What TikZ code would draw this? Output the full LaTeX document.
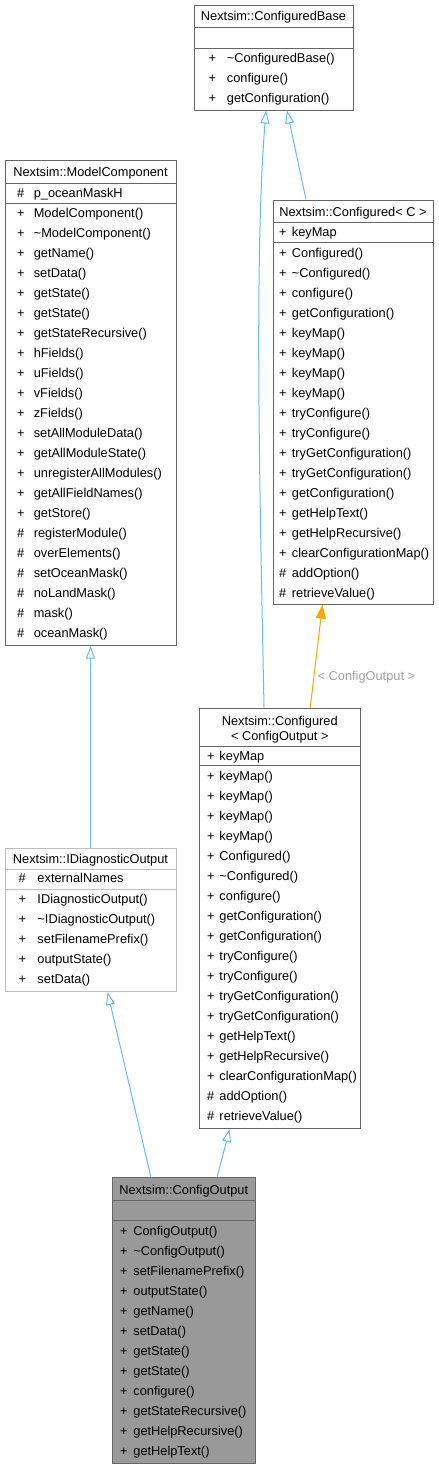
\documentclass[tikz,border=0pt]{standalone}
\usepackage{fontspec}
\setmainfont{Liberation Sans}
\definecolor{edgeblue}{RGB}{99,184,255}
\definecolor{edgeorange}{RGB}{255,165,0}
\definecolor{boxline}{RGB}{102,102,102}
\definecolor{paleline}{RGB}{191,191,191}
\definecolor{curfill}{RGB}{153,153,153}
\definecolor{lblgrey}{RGB}{160,160,160}
\usetikzlibrary{arrows.meta}
\newlength{\symgap}
\newcommand{\mrow}[2]{\makebox[\symgap][l]{#1}#2}
\newcommand{\dtor}{\textasciitilde}

\begin{document}
\begin{tikzpicture}[x=1pt, y=-1pt,
      cls/.style={draw=boxline, line width=1pt, fill=white, inner sep=0pt},
      hdr/.style={font=\fontsize{12.8}{15}\selectfont, align=center, inner sep=0pt},
      members/.style={font=\fontsize{12.8}{20}\selectfont, align=left,
                      anchor=north west, inner sep=0pt,
                      execute at begin node={\global\symgap=#1\relax}},
      divider/.style={boxline, line width=1pt},
      inh/.style={-{Triangle[open, length=13pt, width=9pt]}, line width=1pt, edgeblue},
      tmpl/.style={-{Triangle[length=14pt, width=10pt]}, line width=1pt, edgeorange},
      tmpllbl/.style={text=lblgrey, font=\fontsize{12.8}{15}\selectfont}
    ]
    \useasboundingbox (0,0) rectangle (439,1468);

    % Nextsim::ConfiguredBase
    \node[cls, minimum width=159pt, minimum height=105pt] (base) at (273.5,57.5) {};
    \draw[divider] ([yshift=-23pt]base.north west) -- ([yshift=-23pt]base.north east);
    \draw[divider] ([yshift=-44pt]base.north west) -- ([yshift=-44pt]base.north east);
    \node[hdr] (base-t) at (273.5,17) {Nextsim::ConfiguredBase};
    \node[members=18.4pt] (base-o) at (208.3,53) {%
      \mrow{+}{\dtor ConfiguredBase()}\\
      \mrow{+}{configure()}\\
      \mrow{+}{getConfiguration()}};

    % Nextsim::ModelComponent
    \node[cls, minimum width=171pt, minimum height=485pt] (mc) at (90.5,402.5) {};
    \draw[divider] ([yshift=-24pt]mc.north west) -- ([yshift=-24pt]mc.north east);
    \draw[divider] ([yshift=-44pt]mc.north west) -- ([yshift=-44pt]mc.north east);
    \node[hdr] (mc-t) at (90.5,173.5) {Nextsim::ModelComponent};
    \node[members=16.6pt] (mc-a) at (17,188) {\mrow{\#}{p\_oceanMaskH}};
    \node[members=16.6pt] (mc-o) at (17,208) {%
      \mrow{+}{ModelComponent()}\\
      \mrow{+}{\dtor ModelComponent()}\\
      \mrow{+}{getName()}\\
      \mrow{+}{setData()}\\
      \mrow{+}{getState()}\\
      \mrow{+}{getState()}\\
      \mrow{+}{getStateRecursive()}\\
      \mrow{+}{hFields()}\\
      \mrow{+}{uFields()}\\
      \mrow{+}{vFields()}\\
      \mrow{+}{zFields()}\\
      \mrow{+}{setAllModuleData()}\\
      \mrow{+}{getAllModuleState()}\\
      \mrow{+}{unregisterAllModules()}\\
      \mrow{+}{getAllFieldNames()}\\
      \mrow{+}{getStore()}\\
      \mrow{\#}{registerModule()}\\
      \mrow{\#}{overElements()}\\
      \mrow{\#}{setOceanMask()}\\
      \mrow{\#}{noLandMask()}\\
      \mrow{\#}{mask()}\\
      \mrow{\#}{oceanMask()}};

    % Nextsim::Configured< C >
    \node[cls, minimum width=160pt, minimum height=404pt] (cfgc) at (353,402) {};
    \draw[divider] ([yshift=-23pt]cfgc.north west) -- ([yshift=-23pt]cfgc.north east);
    \draw[divider] ([yshift=-43pt]cfgc.north west) -- ([yshift=-43pt]cfgc.north east);
    \node[hdr] (cfgc-t) at (353,213.5) {Nextsim::Configured< C >};
    \node[members=12.7pt] (cfgc-a) at (279,227.5) {\mrow{+}{keyMap}};
    \node[members=12.7pt] (cfgc-o) at (279,247.7) {%
      \mrow{+}{Configured()}\\
      \mrow{+}{\dtor Configured()}\\
      \mrow{+}{configure()}\\
      \mrow{+}{getConfiguration()}\\
      \mrow{+}{keyMap()}\\
      \mrow{+}{keyMap()}\\
      \mrow{+}{keyMap()}\\
      \mrow{+}{keyMap()}\\
      \mrow{+}{tryConfigure()}\\
      \mrow{+}{tryConfigure()}\\
      \mrow{+}{tryGetConfiguration()}\\
      \mrow{+}{tryGetConfiguration()}\\
      \mrow{+}{getConfiguration()}\\
      \mrow{+}{getHelpText()}\\
      \mrow{+}{getHelpRecursive()}\\
      \mrow{+}{clearConfigurationMap()}\\
      \mrow{\#}{addOption()}\\
      \mrow{\#}{retrieveValue()}};

    % Nextsim::Configured< ConfigOutput >
    \node[cls, minimum width=160.5pt, minimum height=420.5pt] (cfgo) at (279.75,918.25) {};
    \draw[divider] ([yshift=-39pt]cfgo.north west) -- ([yshift=-39pt]cfgo.north east);
    \draw[divider] ([yshift=-58pt]cfgo.north west) -- ([yshift=-58pt]cfgo.north east);
    \node[hdr] (cfgo-t) at (279.75,729.2) {Nextsim::Configured\\< ConfigOutput >};
    \node[members=12.3pt] (cfgo-a) at (207,751.3) {\mrow{+}{keyMap}};
    \node[members=12.3pt] (cfgo-o) at (207,771.3) {%
      \mrow{+}{keyMap()}\\
      \mrow{+}{keyMap()}\\
      \mrow{+}{keyMap()}\\
      \mrow{+}{keyMap()}\\
      \mrow{+}{Configured()}\\
      \mrow{+}{\dtor Configured()}\\
      \mrow{+}{configure()}\\
      \mrow{+}{getConfiguration()}\\
      \mrow{+}{getConfiguration()}\\
      \mrow{+}{tryConfigure()}\\
      \mrow{+}{tryConfigure()}\\
      \mrow{+}{tryGetConfiguration()}\\
      \mrow{+}{tryGetConfiguration()}\\
      \mrow{+}{getHelpText()}\\
      \mrow{+}{getHelpRecursive()}\\
      \mrow{+}{clearConfigurationMap()}\\
      \mrow{\#}{addOption()}\\
      \mrow{\#}{retrieveValue()}};

    % Nextsim::IDiagnosticOutput
    \node[cls, draw=paleline, minimum width=171pt, minimum height=143.5pt] (ido) at (90.5,919.75) {};
    \draw[divider, paleline] ([yshift=-21.5pt]ido.north west) -- ([yshift=-21.5pt]ido.north east);
    \draw[divider, paleline] ([yshift=-41.5pt]ido.north west) -- ([yshift=-41.5pt]ido.north east);
    \node[hdr] (ido-t) at (90.5,860) {Nextsim::IDiagnosticOutput};
    \node[members=19pt] (ido-a) at (18.3,873.5) {\mrow{\#}{externalNames}};
    \node[members=19pt] (ido-o) at (18.3,894) {%
      \mrow{+}{IDiagnosticOutput()}\\
      \mrow{+}{\dtor IDiagnosticOutput()}\\
      \mrow{+}{setFilenamePrefix()}\\
      \mrow{+}{outputState()}\\
      \mrow{+}{setData()}};

    % Nextsim::ConfigOutput
    \node[cls, fill=curfill, minimum width=142.5pt, minimum height=286.5pt] (co) at (183.75,1320.25) {};
    \draw[divider] ([yshift=-24pt]co.north west) -- ([yshift=-24pt]co.north east);
    \draw[divider] ([yshift=-44pt]co.north west) -- ([yshift=-44pt]co.north east);
    \node[hdr] (co-t) at (183.75,1191.5) {Nextsim::ConfigOutput};
    \node[members=13.4pt] (co-o) at (119.8,1225.7) {%
      \mrow{+}{ConfigOutput()}\\
      \mrow{+}{\dtor ConfigOutput()}\\
      \mrow{+}{setFilenamePrefix()}\\
      \mrow{+}{outputState()}\\
      \mrow{+}{getName()}\\
      \mrow{+}{setData()}\\
      \mrow{+}{getState()}\\
      \mrow{+}{getState()}\\
      \mrow{+}{configure()}\\
      \mrow{+}{getStateRecursive()}\\
      \mrow{+}{getHelpRecursive()}\\
      \mrow{+}{getHelpText()}};

    % inheritance
    \draw[inh] ([xshift=-15.75pt]cfgo.north) .. controls (260,500) and (254,260) .. ([xshift=-7.5pt]base.south);
    \draw[inh] ([xshift=-47pt]cfgc.north) -- ([xshift=13.5pt]base.south);
    \draw[inh] (ido.north) -- (mc.south);
    \draw[inh] ([xshift=-33pt]co.north) -- ([xshift=17pt]ido.south);
    \draw[inh] ([xshift=33.5pt]co.north) -- ([xshift=-50pt]cfgo.south);
    \draw[tmpl] ([xshift=30.5pt]cfgo.north) -- node[tmpllbl, pos=0.29, right] (cfgo-lbl) {< ConfigOutput >} ([xshift=-30.5pt]cfgc.south);
  \end{tikzpicture}
\end{document}
